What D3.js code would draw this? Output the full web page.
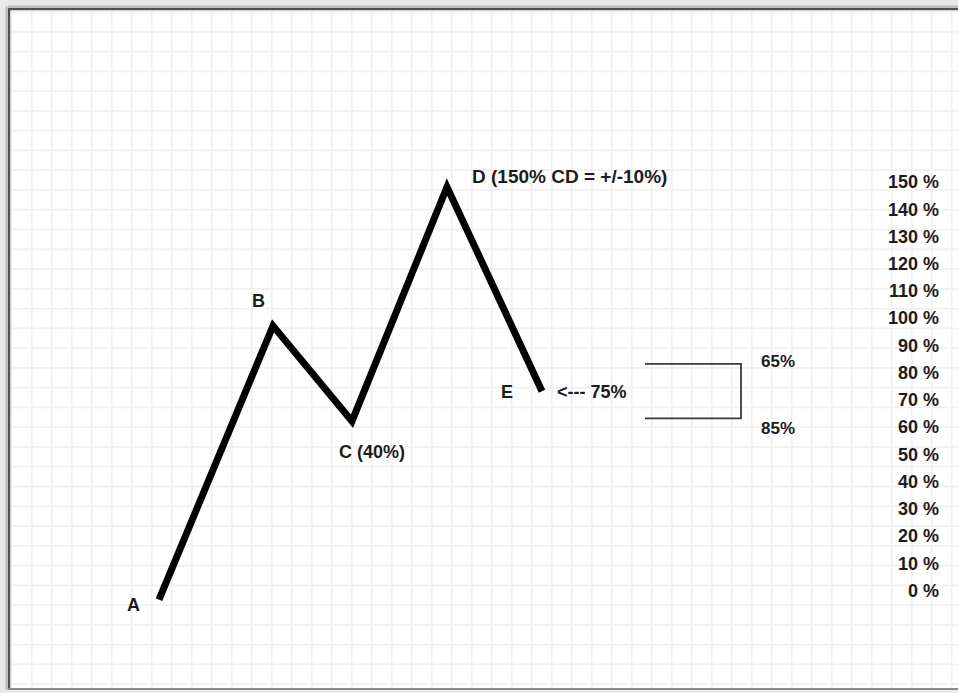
<!DOCTYPE html>
<html>
<head>
<meta charset="utf-8">
<script src="https://cdn.jsdelivr.net/npm/d3@7"></script>
<style>
  html, body { margin: 0; padding: 0; background: #e9e9e9; }
  svg { display: block; }
  text { font-family: "Liberation Sans", Arial, sans-serif; font-weight: bold; fill: #1c1c1c; }
</style>
</head>
<body>
<script>
// ---- data ----
const pointLabels = ["A", "B", "C", "D", "E"];
const pointX = [0, 114, 193, 288, 383];          // horizontal position (time units)
const pointY = [-3.5, 97, 62, 148, 73];          // level in % of AB
const axisTicks = [0, 10, 20, 30, 40, 50, 60, 70, 80, 90, 100, 110, 120, 130, 140, 150];
const annotationTexts = ["A", "B", "C (40%)", "D (150% CD = +/-10%)", "E", "<--- 75%"];
const bracketLevels = [83, 63];                  // top, bottom of the 65%-85% zone
const bracketX = [486, 582];
const bracketLabels = ["65%", "85%"];

// ---- layout ----
const W = 958, H = 693;
const svg = d3.select("body").append("svg").attr("width", W).attr("height", H);

const x = d3.scaleLinear().domain([0, 383]).range([159, 542]);
const y = d3.scaleLinear().domain([0, 150]).range([590, 181.5]);

// frame / background
svg.append("rect").attr("x", 9).attr("y", 9).attr("width", W).attr("height", 680).attr("fill", "#ffffff");

// grid
const grid = svg.append("g").attr("stroke", "#f0f0f0").attr("stroke-width", 1.8);
d3.range(11.7, W, 20).forEach(gx => grid.append("line").attr("x1", gx).attr("x2", gx).attr("y1", 10).attr("y2", 688));
d3.range(12, 688, 19.77).forEach(gy => grid.append("line").attr("x1", 10).attr("x2", W).attr("y1", gy).attr("y2", gy));

// frame lines
svg.append("line").attr("x1", 8).attr("x2", W).attr("y1", 9).attr("y2", 9).attr("stroke", "#505050").attr("stroke-width", 2.5);
svg.append("line").attr("x1", 8).attr("x2", W).attr("y1", 6.5).attr("y2", 6.5).attr("stroke", "#bdbdbd").attr("stroke-width", 2);
svg.append("line").attr("x1", 9).attr("x2", 9).attr("y1", 8).attr("y2", 690).attr("stroke", "#505050").attr("stroke-width", 2.5);
svg.append("line").attr("x1", 6.5).attr("x2", 6.5).attr("y1", 6).attr("y2", 690).attr("stroke", "#bdbdbd").attr("stroke-width", 2);
svg.append("line").attr("x1", 8).attr("x2", W).attr("y1", 689).attr("y2", 689).attr("stroke", "#8a8a8a").attr("stroke-width", 2);

// right axis labels
const axis = d3.axisRight(y).tickValues(axisTicks).tickSize(0).tickFormat(d => d + " %");
const ag = svg.append("g").attr("transform", "translate(939,0)").call(axis);
ag.select(".domain").remove();
ag.selectAll("text").attr("x", 0).attr("text-anchor", "end").attr("dy", "0.35em")
  .style("font-family", '"Liberation Sans", Arial, sans-serif').style("font-weight", "bold")
  .style("font-size", "18px").attr("fill", "#1c1c1c");

// wave line
const pts = pointX.map((px, i) => [px, pointY[i]]);
svg.append("path")
  .attr("d", d3.line().x(d => x(d[0])).y(d => y(d[1]))(pts))
  .attr("fill", "none").attr("stroke", "#000").attr("stroke-width", 7)
  .attr("stroke-linejoin", "miter").attr("stroke-miterlimit", 10);

// point annotations (offsets relative to points)
const offsets = [
  {dx: -32, dy: 5, anchor: "start"},
  {dx: -21, dy: -25, anchor: "start"},
  {dx: -13, dy: 31, anchor: "start"},
  {dx: 25, dy: -11, anchor: "start"},
  {dx: -41, dy: 1, anchor: "start"},
  {dx: 15, dy: 1, anchor: "start"}
];
const idx = [0, 1, 2, 3, 4, 4];
annotationTexts.forEach((t, i) => {
  const p = pts[idx[i]];
  svg.append("text")
    .attr("x", x(p[0]) + offsets[i].dx)
    .attr("y", y(p[1]) + offsets[i].dy)
    .attr("dy", "0.35em")
    .attr("text-anchor", offsets[i].anchor)
    .style("font-size", i === 3 ? "19px" : "18px")
    .text(t);
});

// bracket
const bx0 = x(bracketX[0]), bx1 = x(bracketX[1]);
const by0 = y(bracketLevels[0]), by1 = y(bracketLevels[1]);
svg.append("path")
  .attr("d", `M${bx0},${by0}H${bx1}V${by1}H${bx0}`)
  .attr("fill", "none").attr("stroke", "#3a3a3a").attr("stroke-width", 1.8);
svg.append("text").attr("x", bx1 + 20).attr("y", by0 - 3).attr("dy", "0.35em").style("font-size", "17px").text(bracketLabels[0]);
svg.append("text").attr("x", bx1 + 20).attr("y", by1 + 10).attr("dy", "0.35em").style("font-size", "17px").text(bracketLabels[1]);
</script>
</body>
</html>
